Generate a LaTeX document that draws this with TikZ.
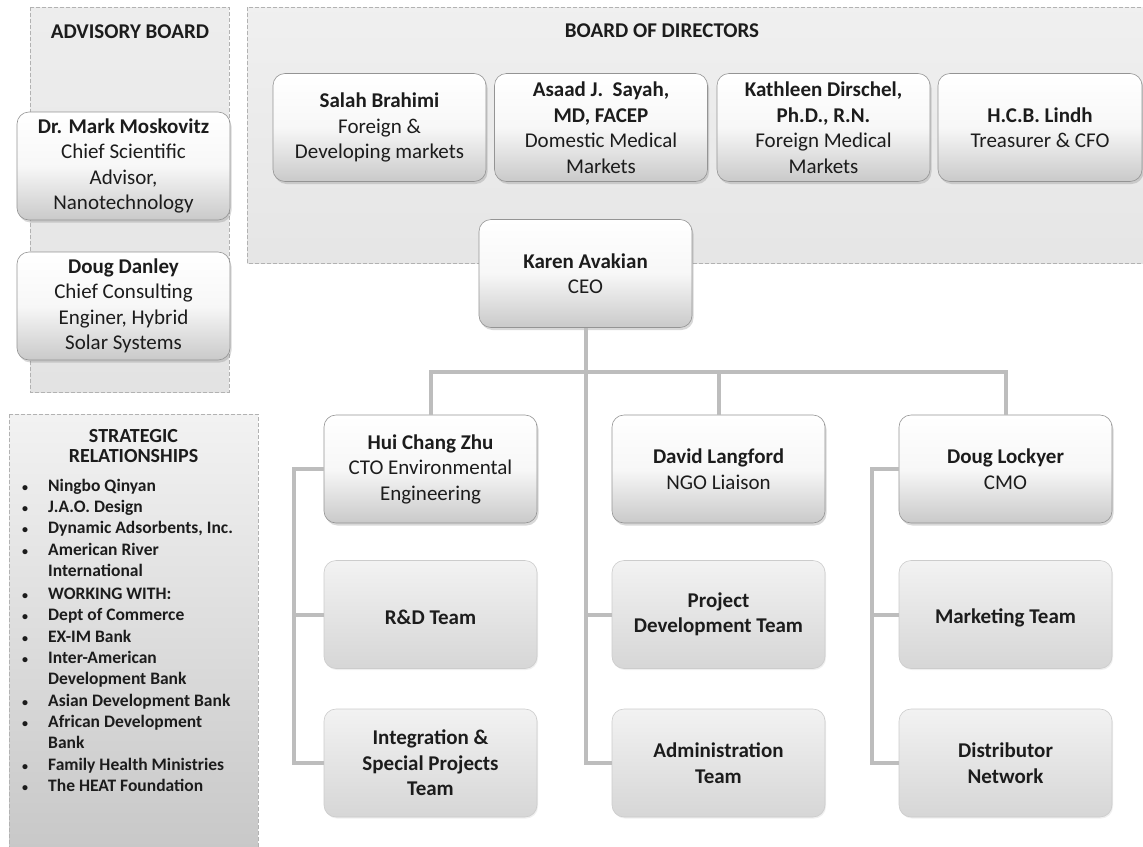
\documentclass[tikz,border=0pt]{standalone}
\usepackage{fontspec}
\setmainfont{Carlito}
\usepackage{xcolor}
\usepackage{tikz}
\usetikzlibrary{shadows,positioning}

\definecolor{inkgray}{HTML}{1C1C1C}
\definecolor{linkgray}{HTML}{BDBDBD}
\definecolor{dashgray}{HTML}{B2B2B2}
\newcommand{\relbullet}{{\fontsize{12}{12}\selectfont\textbullet}}

\begin{document}
\begin{tikzpicture}[x=1pt, y=-1pt,
    panel/.style={draw=dashgray, dash pattern=on 4pt off 2pt, line width=0.8pt},
    heading/.style={font=\bfseries\fontsize{21}{17}\selectfont, align=center, text=inkgray},
    box/.style={rectangle, rounded corners=12pt, minimum width=213pt, minimum height=108pt,
      align=center, text=inkgray, font=\fontsize{21}{25.5}\selectfont,
      execute at begin node={\rule{0pt}{21pt}}},
    member/.style={box, draw=black!42, line width=0.6pt, top color=white, bottom color=black!21,
      middle color=black!3, drop shadow={opacity=0.3, shadow xshift=1.5pt, shadow yshift=-2.5pt}},
    team/.style={box, draw=black!20, line width=0.6pt, top color=black!5, bottom color=black!16,
      font=\bfseries\fontsize{21}{25.5}\selectfont,
      drop shadow={opacity=0.12, shadow xshift=1pt, shadow yshift=-1.5pt}},
    relations/.style={inner sep=0pt, font=\bfseries\fontsize{17.5}{21.3}\selectfont, text=inkgray},
    link/.style={draw=linkgray, line width=4pt}]

  \path[use as bounding box, fill=white] (0,0) rectangle (1143,846);

  % grey panels behind the boards
  \path[panel, top color=black!7, bottom color=black!11] (30,7) rectangle (229,392);
  \path[panel, top color=black!6, bottom color=black!10] (247,7) rectangle (1152,263);
  \path[panel, top color=black!5, bottom color=black!22] (9,414) rectangle (258,860);

  \node[heading] (advtitle) at (130,32) {ADVISORY BOARD};
  \node[heading] (bodtitle) at (662,31) {BOARD OF DIRECTORS};

  \node[member] (moskovitz) at (123.5,166) {\textbf{Dr. Mark Moskovitz}\\Chief Scientific\\Advisor,\\Nanotechnology};
  \node[member] (danley) at (123.5,306) {\textbf{Doug Danley}\\Chief Consulting\\Enginer, Hybrid\\Solar Systems};

  \node[member] (brahimi) at (379.5,127.5) {\textbf{Salah Brahimi}\\Foreign \&\\Developing markets};
  \node[member] (sayah) at (601,127.5) {\textbf{Asaad J.~ Sayah,}\\\textbf{MD, FACEP}\\Domestic Medical\\Markets};
  \node[member] (dirschel) at (823.5,127.5) {\textbf{Kathleen Dirschel,}\\\textbf{Ph.D., R.N.}\\Foreign Medical\\Markets};
  \node[member, minimum width=204pt] (lindh) at (1040,127.5) {\textbf{H.C.B. Lindh}\\Treasurer \& CFO};

  \node[member] (ceo) at (585.5,273.5) {\textbf{Karen Avakian}\\CEO};

  \node[member] (cto) at (430.5,469) {\textbf{Hui Chang Zhu}\\CTO Environmental\\Engineering};
  \node[member] (ngo) at (718.5,469) {\textbf{David Langford}\\NGO Liaison};
  \node[member] (cmo) at (1005.5,469) {\textbf{Doug Lockyer}\\CMO};

  \node[team] (rnd) at (430.5,614.5) {R\&D Team};
  \node[team] (projdev) at (718.5,614.5) {Project\\Development Team};
  \node[team] (marketing) at (1005.5,614.5) {Marketing Team};
  \node[team] (special) at (430.5,763) {Integration \&\\Special Projects\\Team};
  \node[team] (admin) at (718.5,763) {Administration\\Team};
  \node[team] (distrib) at (1005.5,763) {Distributor\\Network};

  % reporting lines
  \coordinate (bar) at (585.5,372);
  \draw[link] (ceo.south) |- (admin.west);
  \draw[link] (ceo.south |- projdev.west) -- (projdev.west);
  \draw[link] (cto.north) |- (bar) -| (cmo.north);
  \draw[link] (bar -| ngo.north) -- (ngo.north);
  \draw[link] (cto.west) -- ++(-30,0) |- (special.west);
  \draw[link] (rnd.west) -- ++(-30,0);
  \draw[link] (cmo.west) -- ++(-27,0) |- (distrib.west);
  \draw[link] (marketing.west) -- ++(-27,0);

  \node[heading, font=\bfseries\fontsize{20}{19.5}\selectfont] (strattitle) at (133.5,446) {STRATEGIC\\RELATIONSHIPS};
  \node[relations, anchor=north west] (partners) at (22,476) {%
    \begin{tabular}{@{}p{26pt}@{}l@{}}
      \relbullet & Ningbo Qinyan\\
      \relbullet & J.A.O. Design\\
      \relbullet & Dynamic Adsorbents, Inc.\\
      \relbullet & American River\\
                 & International\\[2pt]
      \relbullet & WORKING WITH:\\
      \relbullet & Dept of Commerce\\
      \relbullet & EX-IM Bank\\
      \relbullet & Inter-American\\
                 & Development Bank\\
      \relbullet & Asian Development Bank\\
      \relbullet & African Development\\
                 & Bank\\
      \relbullet & Family Health Ministries\\
      \relbullet & The HEAT Foundation
    \end{tabular}};
\end{tikzpicture}
\end{document}
